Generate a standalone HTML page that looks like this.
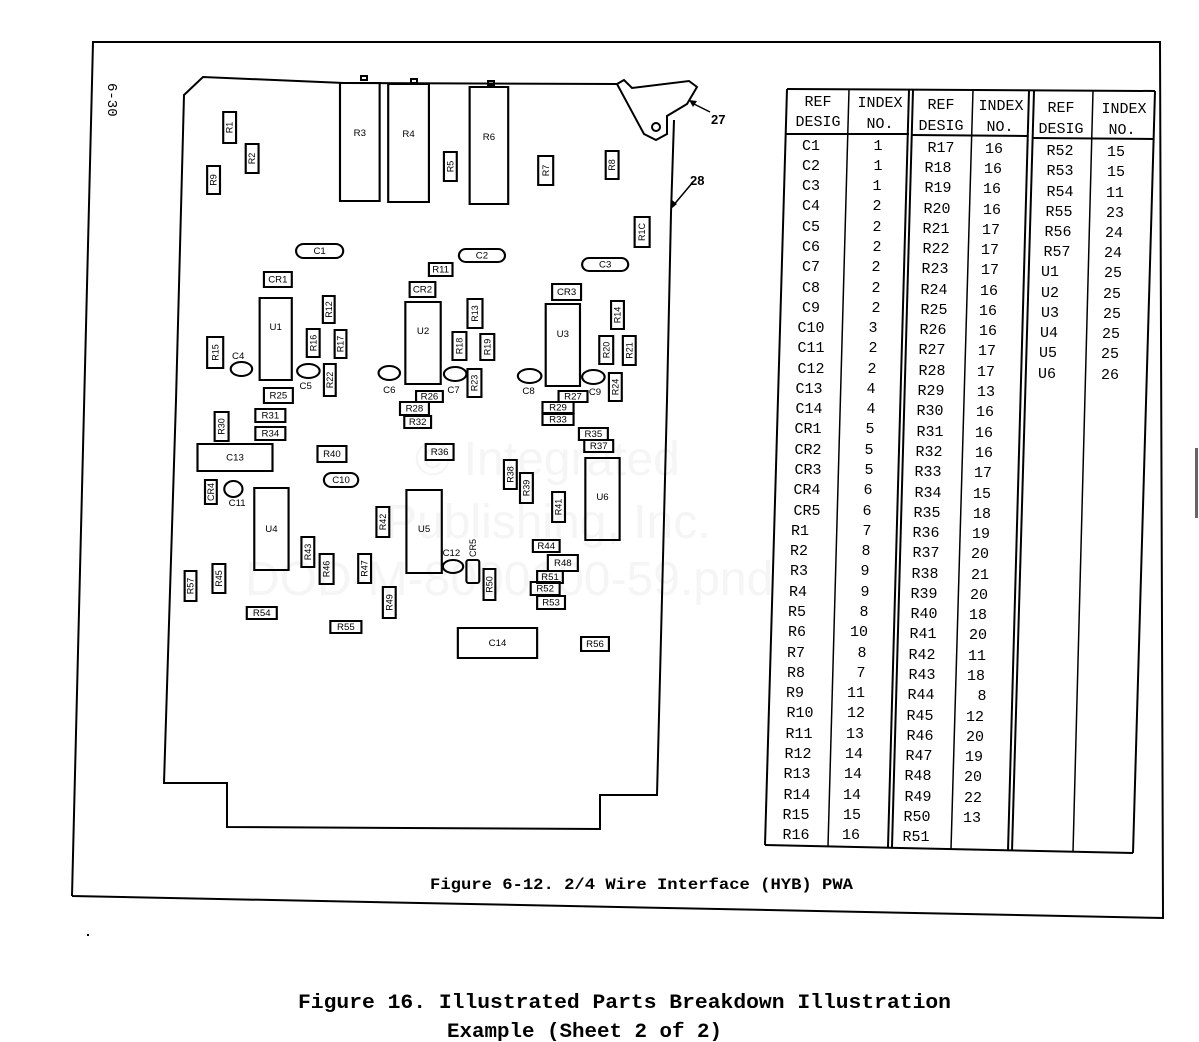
<!DOCTYPE html>
<html><head><meta charset="utf-8"><style>
body{margin:0;background:#fff}
svg{display:block}
.c{fill:none;stroke:#000;stroke-width:2}
.b text{font-family:"Liberation Sans",sans-serif;font-size:9px;text-anchor:middle;dominant-baseline:central}
.t text{font-family:"Liberation Mono",monospace;font-size:15px;text-anchor:middle}
</style></head><body>
<svg width="1199" height="1042" viewBox="0 0 1199 1042" xmlns="http://www.w3.org/2000/svg">
<rect width="1199" height="1042" fill="#fff"/>
<polyline points="72,896 93,42 1160,42 1163,918 72,896" fill="none" stroke="#000" stroke-width="2"/>
<text x="0" y="0" transform="translate(108,83) rotate(90)" font-family="Liberation Mono,monospace" font-size="14">6-30</text>
<g font-family="Liberation Sans,sans-serif" font-size="48" fill="#f5f5f5">
<text x="415" y="475">© Integrated</text>
<text x="385" y="538">Publishing, Inc.</text>
<text x="245" y="595">DOD-M-8000100-59.pnd</text>
</g>
<g fill="none" stroke="#000" stroke-width="2">
<polyline points="617,84 344,83 203,77 184,95 176,400 164,783 227,783 227,827 600,829 600,795 657,795 667,400 671,213 674,120"/>
<polygon points="617,84 624,80 632,88 689,81 697,87 687,104 667,116 667,134 656,140 644,134"/>
<circle cx="656" cy="127" r="4"/>
<line x1="692" y1="103" x2="710" y2="112" stroke-width="1.5"/>
<line x1="693" y1="182" x2="672" y2="207" stroke-width="1.5"/>
</g>
<polygon points="689,100 697,101 693,107" fill="#000"/>
<polygon points="671,209 672,200 677,204" fill="#000"/>
<text x="711" y="124" font-family="Liberation Sans,sans-serif" font-weight="bold" font-size="13">27</text>
<text x="690" y="185" font-family="Liberation Sans,sans-serif" font-weight="bold" font-size="13">28</text>
<rect x="361" y="76" width="6" height="4" class="c" stroke-width="1"/>
<rect x="411" y="79" width="6" height="4" class="c" stroke-width="1"/>
<rect x="488" y="81" width="6" height="4" class="c" stroke-width="1"/>
<g class="b" transform="translate(160,0) scale(1.0714,1) translate(-160,0)">
<g class="c">
<rect x="219" y="112" width="12" height="31"/><rect x="240" y="144" width="12" height="29"/><rect x="204" y="166" width="12" height="28"/>
<rect x="328" y="83" width="37" height="118"/><rect x="373" y="84" width="38" height="118"/><rect x="425" y="152" width="12" height="29"/>
<rect x="449" y="87" width="36" height="117"/><rect x="513" y="156" width="14" height="29"/><rect x="576" y="151" width="12" height="28"/>
<rect x="603" y="217" width="14" height="30"/>
<rect x="287" y="244" width="44" height="14" rx="7"/><rect x="439" y="249" width="43" height="13" rx="6.5"/><rect x="554" y="258" width="43" height="13" rx="6.5"/>
<rect x="411" y="263" width="22" height="13"/><rect x="257" y="272" width="26" height="15"/><rect x="393" y="282" width="24" height="15"/><rect x="526" y="284" width="27" height="16"/>
<rect x="253" y="298" width="30" height="82"/><rect x="389" y="302" width="33" height="82"/><rect x="520" y="304" width="32" height="82"/>
<rect x="312" y="296" width="11" height="27"/><rect x="447" y="299" width="14" height="29"/><rect x="581" y="301" width="12" height="28"/>
<rect x="204" y="337" width="15" height="31"/><rect x="297" y="329" width="12" height="28"/><rect x="323" y="330" width="11" height="28"/>
<rect x="433" y="332" width="13" height="28"/><rect x="459" y="334" width="13" height="26"/><rect x="570" y="336" width="13" height="28"/><rect x="592" y="336" width="12" height="29"/>
<ellipse cx="236" cy="369" rx="10" ry="7"/><ellipse cx="298.5" cy="371" rx="10.5" ry="7"/><ellipse cx="374" cy="373" rx="10" ry="7"/>
<ellipse cx="435.5" cy="374" rx="10.5" ry="7"/><ellipse cx="505" cy="376" rx="11" ry="7"/><ellipse cx="564.5" cy="377" rx="10.5" ry="7"/>
<rect x="313" y="364" width="11" height="32"/><rect x="447" y="369" width="13" height="28"/><rect x="579" y="373" width="12" height="28"/>
<rect x="257" y="388" width="27" height="15"/><rect x="399" y="391" width="25" height="11"/><rect x="532" y="391" width="27" height="11"/>
<rect x="384" y="402" width="27" height="13"/><rect x="517" y="402" width="29" height="11"/><rect x="211" y="412" width="13" height="29"/>
<rect x="249" y="409" width="28" height="13"/><rect x="388" y="416" width="25" height="12"/><rect x="517" y="414" width="29" height="11"/>
<rect x="249" y="427" width="28" height="13"/><rect x="195" y="444" width="70" height="27"/><rect x="551" y="428" width="27" height="12"/>
<rect x="556" y="440" width="27" height="12"/><rect x="307" y="446" width="27" height="16"/><rect x="408" y="444" width="26" height="16"/>
<rect x="313" y="473" width="32" height="14" rx="7"/><rect x="481" y="460" width="12" height="29"/><rect x="496" y="473" width="12" height="30"/>
<rect x="202" y="480" width="11" height="24"/><ellipse cx="228.5" cy="489" rx="8.5" ry="8"/>
<rect x="248" y="488" width="32" height="82"/><rect x="557" y="458" width="32" height="82"/><rect x="526" y="492" width="12" height="30"/>
<rect x="362" y="507" width="12" height="30"/><rect x="390" y="490" width="33" height="83"/><rect x="292" y="537" width="12" height="30"/>
<rect x="508" y="540" width="25" height="12"/><ellipse cx="433.5" cy="566.5" rx="9.5" ry="6.5"/><rect x="446" y="560" width="12" height="23" rx="2"/>
<rect x="309" y="554" width="13" height="30"/><rect x="345" y="554" width="12" height="29"/><rect x="522" y="555" width="28" height="16"/>
<rect x="209" y="564" width="12" height="29"/><rect x="183" y="571" width="11" height="30"/><rect x="462" y="569" width="11" height="31"/>
<rect x="512" y="571" width="24" height="12"/><rect x="506" y="582" width="27" height="13"/><rect x="368" y="587" width="12" height="31"/>
<rect x="512" y="596" width="26" height="13"/><rect x="241" y="607" width="28" height="12"/><rect x="319" y="621" width="29" height="12"/>
<rect x="438" y="628" width="74" height="30"/><rect x="553" y="637" width="26" height="14"/>
</g>
<g transform="rotate(-90 225 127.5)"><text x="225" y="127.5">R1</text></g>
<g transform="rotate(-90 246 158.5)"><text x="246" y="158.5">R2</text></g>
<g transform="rotate(-90 210 180)"><text x="210" y="180">R9</text></g>
<text x="346.5" y="133">R3</text><text x="392" y="134">R4</text><text x="467" y="137">R6</text>
<g transform="rotate(-90 431 166.5)"><text x="431" y="166.5">R5</text></g>
<g transform="rotate(-90 520 170.5)"><text x="520" y="170.5">R7</text></g>
<g transform="rotate(-90 582 165)"><text x="582" y="165">R8</text></g>
<g transform="rotate(-90 610 232)"><text x="610" y="232">R1C</text></g>
<text x="309" y="251">C1</text><text x="460.5" y="255.5">C2</text><text x="575.5" y="264.5">C3</text>
<text x="422" y="269.5">R11</text><text x="270" y="279.5">CR1</text><text x="405" y="289.5">CR2</text><text x="539.5" y="292">CR3</text>
<text x="268" y="327">U1</text><text x="405.5" y="331">U2</text><text x="536" y="334">U3</text>
<g transform="rotate(-90 317.5 309.5)"><text x="317.5" y="309.5">R12</text></g>
<g transform="rotate(-90 454 313.5)"><text x="454" y="313.5">R13</text></g>
<g transform="rotate(-90 587 315)"><text x="587" y="315">R14</text></g>
<g transform="rotate(-90 211.5 352.5)"><text x="211.5" y="352.5">R15</text></g>
<g transform="rotate(-90 303 343)"><text x="303" y="343">R16</text></g>
<g transform="rotate(-90 328.5 344)"><text x="328.5" y="344">R17</text></g>
<g transform="rotate(-90 439.5 346)"><text x="439.5" y="346">R18</text></g>
<g transform="rotate(-90 465.5 347)"><text x="465.5" y="347">R19</text></g>
<g transform="rotate(-90 576.5 350)"><text x="576.5" y="350">R20</text></g>
<g transform="rotate(-90 598 350.5)"><text x="598" y="350.5">R21</text></g>
<text x="233" y="356">C4</text><text x="296" y="386">C5</text><text x="374" y="390">C6</text><text x="434" y="390">C7</text><text x="504" y="391">C8</text><text x="566" y="392">C9</text>
<g transform="rotate(-90 318.5 380)"><text x="318.5" y="380">R22</text></g>
<g transform="rotate(-90 453.5 383)"><text x="453.5" y="383">R23</text></g>
<g transform="rotate(-90 585 387)"><text x="585" y="387">R24</text></g>
<text x="270.5" y="395.5">R25</text><text x="411.5" y="396.5">R26</text><text x="545.5" y="396.5">R27</text>
<text x="397.5" y="408.5">R28</text><text x="531.5" y="407.5">R29</text>
<g transform="rotate(-90 217.5 426.5)"><text x="217.5" y="426.5">R30</text></g>
<text x="263" y="415.5">R31</text><text x="400.5" y="422">R32</text><text x="531.5" y="419.5">R33</text>
<text x="263" y="433.5">R34</text><text x="230" y="457.5">C13</text><text x="564.5" y="434">R35</text><text x="569.5" y="446">R37</text>
<text x="320.5" y="454">R40</text><text x="421" y="452">R36</text><text x="329" y="480">C10</text>
<g transform="rotate(-90 487 474.5)"><text x="487" y="474.5">R38</text></g>
<g transform="rotate(-90 502 488)"><text x="502" y="488">R39</text></g>
<g transform="rotate(-90 207.5 492)"><text x="207.5" y="492">CR4</text></g>
<text x="232" y="503">C11</text><text x="264" y="529">U4</text><text x="573" y="497">U6</text>
<g transform="rotate(-90 532 507)"><text x="532" y="507">R41</text></g>
<g transform="rotate(-90 368 522)"><text x="368" y="522">R42</text></g>
<text x="406.5" y="529">U5</text>
<g transform="rotate(-90 298 552)"><text x="298" y="552">R43</text></g>
<text x="520.5" y="546">R44</text><text x="432" y="553">C12</text>
<g transform="rotate(-90 452 548)"><text x="452" y="548">CR5</text></g>
<g transform="rotate(-90 315.5 569)"><text x="315.5" y="569">R46</text></g>
<g transform="rotate(-90 351 568.5)"><text x="351" y="568.5">R47</text></g>
<text x="536" y="563">R48</text>
<g transform="rotate(-90 215 578.5)"><text x="215" y="578.5">R45</text></g>
<g transform="rotate(-90 188.5 586)"><text x="188.5" y="586">R57</text></g>
<g transform="rotate(-90 467.5 584.5)"><text x="467.5" y="584.5">R50</text></g>
<text x="524" y="577">R51</text><text x="519.5" y="588.5">R52</text>
<g transform="rotate(-90 374 602.5)"><text x="374" y="602.5">R49</text></g>
<text x="525" y="602.5">R53</text><text x="255" y="613">R54</text><text x="333.5" y="627">R55</text>
<text x="475" y="643">C14</text><text x="566" y="644">R56</text>
</g>
<g fill="none" stroke="#000" stroke-width="2">
<line x1="787" y1="89" x2="1155" y2="91"/>
<line x1="787" y1="89" x2="765" y2="845"/>
<line x1="1155" y1="91" x2="1133" y2="853"/>
<line x1="765" y1="845" x2="1133" y2="853"/>
<line x1="786" y1="134" x2="909" y2="134"/>
<line x1="912" y1="135" x2="1027" y2="136"/>
<line x1="1032" y1="138" x2="1154" y2="139"/>
<line x1="849" y1="90" x2="828" y2="846" stroke-width="1.5"/>
<line x1="909" y1="90" x2="888" y2="847"/><line x1="913" y1="90" x2="892" y2="847"/>
<line x1="973" y1="90" x2="951" y2="849" stroke-width="1.5"/>
<line x1="1029" y1="91" x2="1008" y2="851"/><line x1="1034" y1="91" x2="1012" y2="851"/>
<line x1="1093" y1="91" x2="1073" y2="852" stroke-width="1.5"/>
</g>
<g class="t" font-size="14">
<text x="818" y="106">REF</text><text x="818" y="126">DESIG</text><text x="880" y="107">INDEX</text><text x="880" y="128">NO.</text>
<text x="941" y="109">REF</text><text x="941" y="130">DESIG</text><text x="1001" y="110">INDEX</text><text x="1000" y="131">NO.</text>
<text x="1061" y="112">REF</text><text x="1061" y="133">DESIG</text><text x="1124" y="113">INDEX</text><text x="1122" y="134">NO.</text>
</g>
<g class="t">
<text x="811" y="150">C1</text><text x="811" y="170">C2</text><text x="811" y="190">C3</text><text x="811" y="210">C4</text><text x="811" y="231">C5</text><text x="811" y="251">C6</text><text x="811" y="271">C7</text><text x="811" y="292">C8</text><text x="811" y="312">C9</text><text x="811" y="332">C10</text><text x="811" y="352">C11</text><text x="811" y="373">C12</text><text x="809" y="393">C13</text><text x="809" y="413">C14</text><text x="808" y="433">CR1</text><text x="808" y="454">CR2</text><text x="808" y="474">CR3</text><text x="807" y="494">CR4</text><text x="807" y="515">CR5</text><text x="800" y="535">R1</text><text x="799" y="555">R2</text><text x="799" y="575">R3</text><text x="798" y="596">R4</text><text x="797" y="616">R5</text><text x="797" y="636">R6</text><text x="796" y="657">R7</text><text x="796" y="677">R8</text><text x="795" y="697">R9</text><text x="800" y="717">R10</text><text x="799" y="738">R11</text><text x="798" y="758">R12</text><text x="797" y="778">R13</text><text x="797" y="799">R14</text><text x="796" y="819">R15</text><text x="796" y="839">R16</text>
</g>
<g class="t">
<text x="878" y="150">1</text><text x="878" y="170">1</text><text x="877" y="190">1</text><text x="877" y="210">2</text><text x="877" y="231">2</text><text x="877" y="251">2</text><text x="876" y="271">2</text><text x="876" y="292">2</text><text x="876" y="312">2</text><text x="873" y="332">3</text><text x="873" y="352">2</text><text x="872" y="373">2</text><text x="871" y="393">4</text><text x="871" y="413">4</text><text x="870" y="433">5</text><text x="869" y="454">5</text><text x="869" y="474">5</text><text x="868" y="494">6</text><text x="867" y="515">6</text><text x="867" y="535">7</text><text x="866" y="555">8</text><text x="865" y="575">9</text><text x="865" y="596">9</text><text x="864" y="616">8</text><text x="859" y="636">10</text><text x="862" y="657">8</text><text x="861" y="677">7</text><text x="856" y="697">11</text><text x="856" y="717">12</text><text x="855" y="738">13</text><text x="854" y="758">14</text><text x="853" y="778">14</text><text x="852" y="799">14</text><text x="852" y="819">15</text><text x="851" y="839">16</text>
</g>
<g class="t">
<text x="941" y="152">R17</text><text x="938" y="172">R18</text><text x="938" y="192">R19</text><text x="937" y="213">R20</text><text x="936" y="233">R21</text><text x="936" y="253">R22</text><text x="935" y="273">R23</text><text x="934" y="294">R24</text><text x="934" y="314">R25</text><text x="933" y="334">R26</text><text x="932" y="354">R27</text><text x="932" y="375">R28</text><text x="931" y="395">R29</text><text x="930" y="415">R30</text><text x="930" y="436">R31</text><text x="929" y="456">R32</text><text x="928" y="476">R33</text><text x="928" y="497">R34</text><text x="927" y="517">R35</text><text x="926" y="537">R36</text><text x="926" y="557">R37</text><text x="925" y="578">R38</text><text x="924" y="598">R39</text><text x="924" y="618">R40</text><text x="923" y="638">R41</text><text x="922" y="659">R42</text><text x="922" y="679">R43</text><text x="921" y="699">R44</text><text x="920" y="720">R45</text><text x="920" y="740">R46</text><text x="919" y="760">R47</text><text x="918" y="780">R48</text><text x="918" y="801">R49</text><text x="917" y="821">R50</text><text x="916" y="841">R51</text>
</g>
<g class="t">
<text x="994" y="153">16</text><text x="993" y="173">16</text><text x="992" y="193">16</text><text x="992" y="214">16</text><text x="991" y="234">17</text><text x="990" y="254">17</text><text x="990" y="274">17</text><text x="989" y="295">16</text><text x="988" y="315">16</text><text x="988" y="335">16</text><text x="987" y="355">17</text><text x="986" y="376">17</text><text x="986" y="396">13</text><text x="985" y="416">16</text><text x="984" y="437">16</text><text x="984" y="457">16</text><text x="983" y="477">17</text><text x="982" y="498">15</text><text x="982" y="518">18</text><text x="981" y="538">19</text><text x="980" y="558">20</text><text x="980" y="579">21</text><text x="979" y="599">20</text><text x="978" y="619">18</text><text x="978" y="639">20</text><text x="977" y="660">11</text><text x="976" y="680">18</text><text x="982" y="700">8</text><text x="975" y="721">12</text><text x="975" y="741">20</text><text x="974" y="761">19</text><text x="973" y="781">20</text><text x="973" y="802">22</text><text x="972" y="822">13</text>
</g>
<g class="t">
<text x="1060" y="155">R52</text><text x="1060" y="175">R53</text><text x="1060" y="196">R54</text><text x="1059" y="216">R55</text><text x="1058" y="236">R56</text><text x="1057" y="256">R57</text><text x="1050" y="276">U1</text><text x="1050" y="297">U2</text><text x="1050" y="317">U3</text><text x="1049" y="337">U4</text><text x="1048" y="357">U5</text><text x="1047" y="378">U6</text>
<text x="1116" y="156">15</text><text x="1116" y="176">15</text><text x="1115" y="197">11</text><text x="1115" y="217">23</text><text x="1114" y="237">24</text><text x="1113" y="257">24</text><text x="1113" y="277">25</text><text x="1112" y="298">25</text><text x="1112" y="318">25</text><text x="1111" y="338">25</text><text x="1110" y="358">25</text><text x="1110" y="379">26</text>
</g>
<text x="430" y="889" font-family="Liberation Mono,monospace" font-size="16" font-weight="bold" textLength="423" lengthAdjust="spacingAndGlyphs">Figure 6-12.  2/4 Wire Interface (HYB) PWA</text>
<text x="298" y="1008" font-family="Liberation Mono,monospace" font-size="20" font-weight="bold" textLength="653" lengthAdjust="spacingAndGlyphs">Figure 16.  Illustrated Parts Breakdown Illustration</text>
<text x="447" y="1037" font-family="Liberation Mono,monospace" font-size="20" font-weight="bold" textLength="275" lengthAdjust="spacingAndGlyphs">Example (Sheet 2 of 2)</text>
<rect x="87" y="934" width="2" height="2" fill="#000"/>
<rect x="1195" y="448" width="3" height="70" fill="#000" opacity="0.6"/>
</svg>
</body></html>
